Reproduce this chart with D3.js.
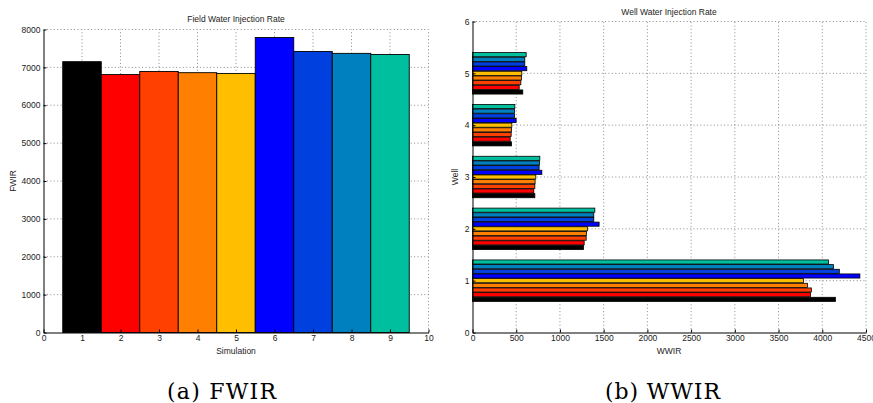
<!DOCTYPE html>
<html>
<head>
<meta charset="utf-8">
<script src="https://cdn.jsdelivr.net/npm/d3@7"></script>
<style>
  body { margin: 0; background: #fff; }
  text { font-family: "Liberation Sans", Arial, sans-serif; fill: #222; }
  .caption { font-family: "DejaVu Serif", "Liberation Serif", serif; fill: #000; }
</style>
</head>
<body>
<div id="chart"></div>
<script>
// ---- data ----
const simulations = [1, 2, 3, 4, 5, 6, 7, 8, 9];
const fwir = [7150, 6810, 6890, 6860, 6840, 7790, 7420, 7370, 7340];
const wells = [1, 2, 3, 4, 5];
// well water injection rate, one array per simulation (wells 1..5)
const wwirSim1 = [4150, 1270, 713, 446, 575];
const wwirSim2 = [3865, 1277, 701, 431, 534];
const wwirSim3 = [3875, 1300, 713, 442, 553];
const wwirSim4 = [3830, 1303, 716, 446, 560];
const wwirSim5 = [3785, 1315, 724, 450, 564];
const wwirSim6 = [4430, 1448, 793, 499, 621];
const wwirSim7 = [4195, 1387, 762, 480, 598];
const wwirSim8 = [4127, 1387, 766, 480, 598];
const wwirSim9 = [4070, 1399, 770, 484, 614];
const wwir = [wwirSim1, wwirSim2, wwirSim3, wwirSim4, wwirSim5, wwirSim6, wwirSim7, wwirSim8, wwirSim9];
const fwirXTicks = d3.range(0, 11);
const fwirYTicks = d3.range(0, 8001, 1000);
const wwirXTicks = d3.range(0, 4501, 500);
const wwirYTicks = d3.range(0, 7);

const colors = ['#000000', '#ff0000', '#ff4000', '#ff8000', '#ffbf00', '#0000ff', '#0040df', '#0080bf', '#00bf9f'];

const W = 873, H = 403;
const svg = d3.select('#chart').append('svg')
  .attr('width', W).attr('height', H);
svg.append('rect').attr('width', W).attr('height', H).attr('fill', '#fff');

const gridStyle = sel => sel.attr('stroke', '#8a8a8a').attr('stroke-width', 1)
  .attr('stroke-dasharray', '1,2.4').attr('fill', 'none');

function styleAxis(g) {
  g.selectAll('path.domain').attr('stroke', '#000').attr('stroke-width', 1);
  g.selectAll('.tick line').attr('stroke', '#000');
  g.selectAll('.tick text').attr('font-size', 8.5).attr('fill', '#222')
    .attr('font-family', '"Liberation Sans", Arial, sans-serif');
}

function caption(cx, len, label) {
  svg.append('text').attr('class', 'caption').attr('x', cx).attr('y', 399)
    .attr('text-anchor', 'middle').attr('font-size', 22)
    .attr('textLength', len).attr('lengthAdjust', 'spacing').text(label);
}

// ---- (a) FWIR ----
(function () {
  const L = 43.5, T = 29.5, R = 428.5, B = 332.5;
  const x = d3.scaleLinear().domain([0, 10]).range([L, R]);
  const y = d3.scaleLinear().domain([0, 8000]).range([B, T]);
  const g = svg.append('g');

  const grid = g.append('g');
  fwirXTicks.filter(d => d > 0).forEach(d => {
    grid.append('line').attr('x1', x(d)).attr('x2', x(d)).attr('y1', B).attr('y2', T).call(gridStyle);
  });
  fwirYTicks.filter(d => d > 0).forEach(d => {
    grid.append('line').attr('x1', L).attr('x2', R).attr('y1', y(d)).attr('y2', y(d)).call(gridStyle);
  });

  g.append('g').selectAll('rect')
    .data(simulations)
    .join('rect')
    .attr('x', (d) => x(d - 0.5))
    .attr('width', (d) => x(d + 0.5) - x(d - 0.5))
    .attr('y', (d, i) => y(fwir[i]))
    .attr('height', (d, i) => B - y(fwir[i]))
    .attr('fill', (d, i) => colors[i])
    .attr('stroke', '#000')
    .attr('stroke-width', 0.9);

  g.append('g').attr('transform', `translate(0,${B})`)
    .call(d3.axisBottom(x).tickValues(fwirXTicks).tickFormat(d3.format('d'))
      .tickSizeInner(-3).tickSizeOuter(0).tickPadding(2))
    .call(styleAxis);
  g.append('g').attr('transform', `translate(${L},0)`)
    .call(d3.axisLeft(y).tickValues(fwirYTicks).tickFormat(d3.format('d'))
      .tickSizeInner(-3).tickSizeOuter(0).tickPadding(3))
    .call(styleAxis);

  g.append('text').attr('x', (L + R) / 2).attr('y', 22).attr('text-anchor', 'middle')
    .attr('font-size', 8.5).text('Field Water Injection Rate');
  g.append('text').attr('x', (L + R) / 2).attr('y', 354).attr('text-anchor', 'middle')
    .attr('font-size', 8.5).text('Simulation');
  g.append('text').attr('transform', `translate(16,${(T + B) / 2}) rotate(-90)`)
    .attr('text-anchor', 'middle').attr('font-size', 8.5).text('FWIR');
  caption(221.5, 109, '(a) FWIR');
})();

// ---- (b) WWIR ----
(function () {
  const L = 472.5, T = 21.5, R = 866, B = 332.5;
  const x = d3.scaleLinear().domain([0, 4500]).range([L, R]);
  const y = d3.scaleLinear().domain([0, 6]).range([B, T]);
  const inner = d3.scaleBand().domain(simulations).range([-0.4, 0.4]).paddingInner(0.12);
  const g = svg.append('g');

  const grid = g.append('g');
  wwirXTicks.filter(d => d > 0).forEach(d => {
    grid.append('line').attr('x1', x(d)).attr('x2', x(d)).attr('y1', B).attr('y2', T).call(gridStyle);
  });
  wwirYTicks.filter(d => d > 0).forEach(d => {
    grid.append('line').attr('x1', L).attr('x2', R).attr('y1', y(d)).attr('y2', y(d)).call(gridStyle);
  });

  const series = g.append('g').selectAll('g')
    .data(simulations)
    .join('g')
    .attr('fill', (d, i) => colors[i]);

  series.selectAll('rect')
    .data((s, i) => wells.map((w, j) => ({ sim: s, well: w, value: wwir[i][j] })))
    .join('rect')
    .attr('x', L)
    .attr('width', d => x(d.value) - L)
    .attr('y', d => y(d.well + inner(d.sim) + inner.bandwidth()))
    .attr('height', d => y(d.well + inner(d.sim)) - y(d.well + inner(d.sim) + inner.bandwidth()))
    .attr('stroke', '#000')
    .attr('stroke-width', 0.8);

  g.append('g').attr('transform', `translate(0,${B})`)
    .call(d3.axisBottom(x).tickValues(wwirXTicks).tickFormat(d3.format('d'))
      .tickSizeInner(-3).tickSizeOuter(0).tickPadding(2))
    .call(styleAxis);
  g.append('g').attr('transform', `translate(${L},0)`)
    .call(d3.axisLeft(y).tickValues(wwirYTicks).tickFormat(d3.format('d'))
      .tickSizeInner(-3).tickSizeOuter(0).tickPadding(3))
    .call(styleAxis);

  g.append('text').attr('x', 669).attr('y', 15).attr('text-anchor', 'middle')
    .attr('font-size', 8.5).text('Well Water Injection Rate');
  g.append('text').attr('x', 669).attr('y', 354).attr('text-anchor', 'middle')
    .attr('font-size', 8.5).text('WWIR');
  g.append('text').attr('transform', `translate(458,${(T + B) / 2}) rotate(-90)`)
    .attr('text-anchor', 'middle').attr('font-size', 8.5).text('Well');
  caption(662.5, 115, '(b) WWIR');
})();
</script>
</body>
</html>
